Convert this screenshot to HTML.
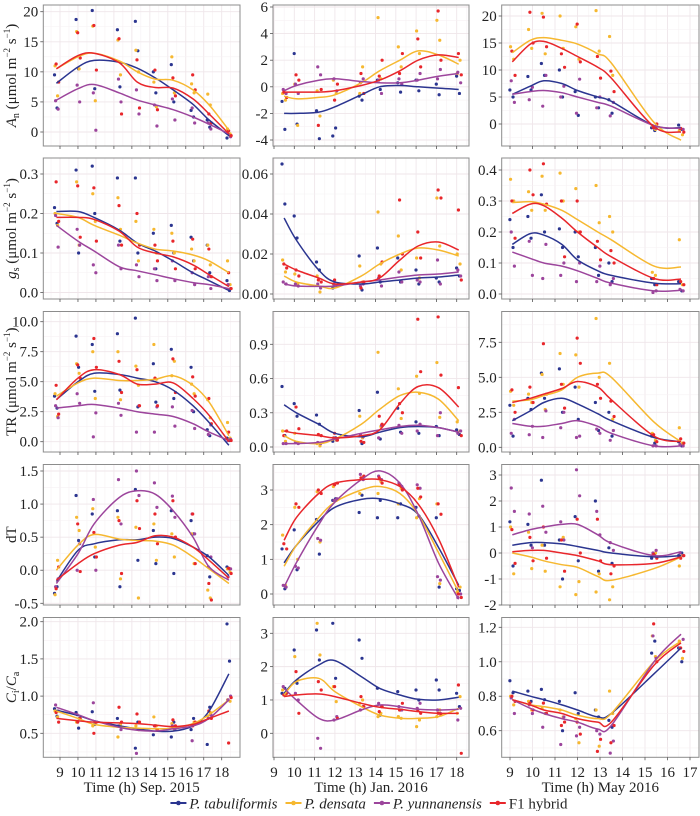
<!DOCTYPE html>
<html><head><meta charset="utf-8"><style>
html,body{margin:0;padding:0;background:#fff;}
svg, svg text{font-family:"Liberation Serif","Times New Roman","DejaVu Serif",serif;}
</style></head><body>
<svg id="fig" width="700" height="811" viewBox="0 0 700 811" xmlns="http://www.w3.org/2000/svg" font-family="Liberation Serif, serif"></svg>
<script>
// ---------- measurement times (h) ----------
const timesSep = [8.8,10.0,10.9,12.3,13.3,14.3,15.3,16.4,17.3,18.4];
const timesJan = [9.5,10.1,11.2,12.0,13.3,14.2,15.2,16.1,17.1,18.1];
const timesMay = [9.1,9.9,10.5,11.3,12.0,12.9,13.5,15.4,16.6];
const seriesNames = ["P. tabuliformis","P. densata","P. yunnanensis","F1 hybrid"];
const xTicksSep = [9,10,11,12,13,14,15,16,17,18];
const xTicksJan = [9,10,11,12,13,14,15,16,17,18];
const xTicksMay = [9,10,11,12,13,14,15,16,17];
const xTitles = ["Time (h)  Sep. 2015","Time (h)  Jan. 2016","Time (h)  May 2016"];

// ---------- A_n ----------
const anSepLine = [[8.1,10.8,11.9,11.6,10.6,9.0,7.0,4.6,2.0,-0.6],[10.5,12.5,13.1,11.8,10.0,8.8,8.6,7.0,4.5,0.3],[5.3,7.2,7.9,6.5,5.3,4.5,3.7,2.5,1.3,-0.3],[10.5,12.7,13.1,11.5,8.3,7.4,7.3,5.5,3.0,-0.3]];
const anSepDots = [[[9.5,4.0],[18.7,10.5],[20.2,7.2],[17.0,7.5],[18.4,13.5],[10.0,6.5],[11.2,5.0],[3.6,2.5],[2.0,0.8],[-1.0,-0.5]],[[11.0,6.0],[16.7,10.5],[17.6,5.2],[15.3,9.5],[13.6,10.0],[8.3,4.2],[12.5,6.5],[8.0,6.5],[6.3,4.5],[0.5,-0.3]],[[5.2,3.8],[7.8,5.0],[6.5,0.3],[8.8,5.0],[7.0,3.0],[4.5,1.0],[5.5,2.0],[4.0,1.5],[1.5,0.5],[-0.3,-0.8]],[[11.3,8.3],[16.5,12.3],[17.7,10.3],[15.5,3.0],[12.0,4.0],[10.3,3.7],[9.0,6.0],[9.5,7.0],[3.0,1.5],[0.2,-0.6]]];
const anJanLine = [[-2.0,-2.0,-1.9,-1.5,-0.6,0.0,0.1,0.0,-0.1,-0.2],[-0.7,-0.9,-0.8,-0.6,0.3,1.2,2.0,2.7,2.4,1.7],[-0.3,0.1,0.5,0.6,0.4,0.3,0.3,0.5,0.8,1.0],[-0.4,-0.4,-0.4,-0.3,0.1,0.5,1.2,2.0,2.4,2.2]];
const anJanDots = [[[-1.1,-3.2],[2.5,-2.8],[-1.8,-3.9],[-3.7,-3.1],[-0.7,-1.0],[0.5,-0.2],[0.3,-0.4],[0.5,-0.3],[0.2,-0.6],[0.8,-0.5]],[[-0.5,-1.0],[0.2,-2.9],[-0.3,-2.2],[0.5,-0.5],[-0.5,1.5],[5.2,0.6],[3.0,1.5],[4.2,2.5],[5.0,3.5],[1.0,2.0]],[[-0.2,-0.5],[0.2,-0.5],[1.5,0.9],[0.6,-0.3],[0.3,0.6],[0.5,-0.5],[0.6,0.2],[0.5,1.0],[0.6,1.3],[1.1,0.3]],[[-0.4,-0.8],[0.9,0.5],[-2.9,-0.2],[-1.0,0.2],[1.0,-0.5],[0.8,2.0],[1.0,2.5],[3.6,1.5],[5.7,2.0],[2.5,0.9]]];
const anMayLine = [[5.5,7.0,8.0,7.5,6.2,5.0,4.2,-0.3,-0.7],[13.2,15.5,16.0,15.5,14.8,13.0,11.3,0.3,-3.0],[5.5,6.0,6.2,5.8,5.0,4.0,3.3,-0.3,-0.8],[11.5,14.8,15.3,14.0,12.5,10.5,8.5,-0.5,-1.5]];
const anMayDots = [[[6.3,5.0],[8.8,6.3],[11.2,9.0],[10.0,5.0],[6.0,1.6],[5.0,3.0],[4.5,2.0],[-0.7,-1.2],[-0.2,-1.0]],[[14.3,12.0],[17.5,14.0],[20.5,13.0],[20.0,14.0],[18.0,12.0],[21.0,13.5],[16.2,9.0],[-0.3,-1.0],[-1.2,-2.0]],[[8.0,4.0],[4.5,6.8],[3.3,9.0],[5.0,7.0],[2.0,8.3],[3.0,5.0],[1.5,4.0],[-0.5,-0.8],[-0.8,-1.0]],[[13.5,9.0],[20.7,15.0],[19.8,14.3],[13.0,10.5],[18.5,11.5],[12.5,8.5],[9.8,6.0],[-0.7,0.0],[-0.8,-1.5]]];

// ---------- g_s ----------
const gsSepLine = [[0.205,0.205,0.19,0.158,0.125,0.105,0.08,0.05,0.03,0.005],[0.20,0.19,0.17,0.145,0.125,0.11,0.105,0.095,0.08,0.05],[0.17,0.13,0.105,0.065,0.055,0.045,0.035,0.025,0.02,0.01],[0.19,0.19,0.185,0.155,0.115,0.10,0.09,0.07,0.045,0.015]];
const gsSepDots = [[[0.215,0.175],[0.31,0.1],[0.32,0.2],[0.29,0.13],[0.29,0.10],[0.15,0.06],[0.17,0.10],[0.14,0.08],[0.12,0.05],[0.03,0.005]],[[0.2,0.17],[0.28,0.12],[0.25,0.18],[0.24,0.16],[0.18,0.08],[0.16,0.1],[0.15,0.10],[0.11,0.08],[0.12,0.07],[0.08,0.02]],[[0.195,0.115],[0.16,0.12],[0.07,0.05],[0.12,0.06],[0.07,0.04],[0.06,0.03],[0.08,0.03],[0.05,0.02],[0.04,0.01],[0.02,0.01]],[[0.28,0.18],[0.27,0.14],[0.265,0.13],[0.22,0.12],[0.2,0.12],[0.12,0.08],[0.13,0.06],[0.135,0.06],[0.11,0.04],[0.05,0.01]]];
const gsJanLine = [[0.038,0.027,0.012,0.006,0.005,0.006,0.007,0.008,0.0085,0.0095],[0.009,0.006,0.004,0.003,0.009,0.015,0.020,0.023,0.022,0.019],[0.005,0.004,0.0038,0.004,0.006,0.007,0.0085,0.0095,0.010,0.011],[0.015,0.012,0.008,0.005,0.006,0.008,0.017,0.024,0.026,0.022]];
const gsJanDots = [[[0.065,0.045],[0.039,0.028],[0.016,0.012],[0.003,0.004],[0.019,0.002],[0.023,0.006],[0.018,0.006],[0.012,0.005],[0.008,0.006],[0.013,0.009]],[[0.017,0.011],[0.01,0.005],[0.009,0.001],[0.005,0.004],[0.014,0.006],[0.041,0.015],[0.029,0.012],[0.018,0.008],[0.048,0.024],[0.02,0.015]],[[0.006,0.005],[0.005,0.004],[0.005,0.003],[0.005,0.004],[0.004,0.005],[0.008,0.004],[0.011,0.006],[0.007,0.006],[0.017,0.005],[0.012,0.009]],[[0.015,0.013],[0.012,0.009],[0.007,0.006],[0.007,0.004],[0.003,0.006],[0.009,0.016],[0.047,0.02],[0.031,0.018],[0.052,0.048],[0.042,0.007]]];
const gsMayLine = [[0.16,0.195,0.19,0.16,0.11,0.075,0.06,0.035,0.033],[0.295,0.298,0.29,0.27,0.24,0.2,0.175,0.09,0.087],[0.135,0.115,0.10,0.09,0.075,0.05,0.035,0.01,0.012],[0.26,0.29,0.285,0.245,0.2,0.15,0.12,0.05,0.048]];
const gsMayDots = [[[0.24,0.15],[0.25,0.18],[0.32,0.2],[0.21,0.15],[0.2,0.12],[0.15,0.06],[0.1,0.04],[0.05,0.03],[0.04,0.01]],[[0.37,0.3],[0.33,0.27],[0.38,0.27],[0.39,0.3],[0.34,0.2],[0.35,0.23],[0.25,0.2],[0.07,0.06],[0.175,0.03]],[[0.2,0.09],[0.17,0.06],[0.05,0.16],[0.06,0.1],[0.04,0.1],[0.04,0.09],[0.03,0.05],[0.005,0.01],[0.015,0.01]],[[0.3,0.18],[0.4,0.32],[0.42,0.29],[0.3,0.12],[0.3,0.2],[0.17,0.11],[0.14,0.1],[0.05,0.03],[0.04,0.03]]];

// ---------- TR ----------
const trSepLine = [[3.5,5.0,5.7,5.6,5.3,5.0,4.3,3.0,1.6,-0.3],[3.8,4.9,5.3,5.1,5.1,5.2,5.5,4.7,3.3,0.5],[2.8,3.0,3.1,2.8,2.5,2.3,2.1,1.5,0.8,0.1],[3.5,5.3,6.0,5.6,4.8,4.8,4.9,3.6,2.2,0.0]];
const trSepDots = [[[3.8,2.8],[8.8,6.2],[8.1,4.2],[9.0,4.3],[10.3,2.9],[6.5,3.3],[7.7,3.6],[6.2,2.5],[1.0,0.5],[0.3,0.1]],[[4.0,2.1],[6.5,5.7],[7.5,3.6],[7.5,3.5],[6.3,4.7],[8.1,5.2],[5.5,6.7],[4.8,4.0],[3.5,2.0],[1.6,0.3]],[[3.0,2.0],[4.0,3.2],[0.4,2.4],[3.2,2.2],[0.8,3.0],[0.8,2.9],[2.9,1.3],[2.6,1.1],[0.6,1.4],[0.1,0.2]],[[4.7,2.3],[6.4,5.3],[8.6,6.2],[6.7,4.1],[6.0,3.0],[5.3,3.0],[6.9,4.1],[5.4,3.8],[3.6,1.5],[0.8,0.1]]];
const trJanLine = [[0.37,0.3,0.2,0.12,0.09,0.13,0.17,0.18,0.17,0.13],[0.1,0.05,0.03,0.07,0.2,0.33,0.45,0.48,0.42,0.23],[0.03,0.03,0.04,0.07,0.12,0.15,0.18,0.19,0.17,0.13],[0.14,0.12,0.1,0.08,0.1,0.15,0.38,0.53,0.52,0.35]];
const trJanDots = [[[0.53,0.1],[0.38,0.27],[0.28,0.2],[0.05,0.08],[0.32,0.03],[0.48,0.07],[0.34,0.13],[0.22,0.12],[0.18,0.1],[0.15,0.11]],[[0.14,0.05],[0.12,0.04],[0.03,0.01],[0.08,0.06],[0.27,0.08],[0.83,0.18],[0.51,0.25],[0.62,0.47],[0.74,0.26],[0.22,0.14]],[[0.03,0.03],[0.04,0.03],[0.04,0.03],[0.08,0.06],[0.11,0.09],[0.08,0.19],[0.19,0.12],[0.14,0.2],[0.1,0.3],[0.12,0.14]],[[0.1,0.14],[0.35,0.16],[0.11,0.1],[0.12,0.06],[0.05,0.04],[0.27,0.2],[0.38,0.3],[1.12,0.66],[1.14,0.63],[0.52,0.1]]];
const trMayLine = [[1.9,2.6,3.2,3.5,3.1,2.4,1.9,0.7,0.4],[3.3,3.4,3.7,4.1,5.0,5.3,5.0,1.8,0.4],[1.7,1.5,1.5,1.7,1.9,1.5,1.0,0.1,0.1],[3.2,3.5,3.8,4.2,4.7,4.3,3.4,0.8,0.4]];
const trMayDots = [[[3.0,0.8],[3.5,2.7],[5.3,3.5],[5.6,2.5],[4.3,2.0],[3.2,1.2],[2.5,0.8],[0.8,0.3],[0.4,0.1]],[[4.0,3.0],[3.8,3.2],[5.2,2.7],[6.7,4.5],[6.6,4.3],[9.2,5.0],[6.0,2.0],[1.0,0.5],[1.4,0.3]],[[1.0,2.0],[0.9,1.5],[0.7,2.6],[1.4,2.5],[0.7,0.8],[1.3,1.0],[0.5,1.2],[0.1,0.1],[0.2,0.1]],[[4.1,2.5],[4.3,3.2],[7.4,3.8],[4.5,2.8],[7.8,6.0],[4.5,3.5],[3.3,2.2],[0.9,0.4],[0.6,0.3]]];

// ---------- dT ----------
const dtSepLine = [[-0.17,0.3,0.4,0.46,0.46,0.5,0.48,0.35,0.2,-0.08],[0.0,0.38,0.54,0.47,0.45,0.44,0.38,0.2,0.02,-0.2],[-0.2,0.25,0.7,1.1,1.2,1.15,0.9,0.5,0.05,-0.15],[-0.15,0.1,0.25,0.38,0.42,0.52,0.5,0.35,0.15,-0.12]];
const dtSepDots = [[[-0.35,-0.25],[1.13,0.45],[0.85,0.2],[0.9,-0.25],[1.22,0.15],[0.6,0.1],[0.9,-0.05],[0.75,0.55],[0.22,-0.1],[0.05,0.02]],[[-0.37,0.15],[0.8,0.6],[0.93,0.35],[0.8,-0.13],[0.65,-0.42],[0.7,0.15],[0.55,0.2],[0.55,0.1],[-0.3,-0.42],[0.02,-0.03]],[[-0.25,-0.13],[0.0,0.4],[1.07,0.0],[1.37,0.7],[1.5,1.13],[1.32,0.95],[1.12,0.8],[0.85,0.55],[0.05,0.2],[-0.1,0.02]],[[-0.28,0.05],[0.7,-0.02],[0.57,0.2],[0.75,-0.05],[1.05,0.63],[0.85,0.4],[1.05,0.5],[0.85,0.1],[-0.2,-0.45],[0.03,-0.05]]];
const dtJanLine = [[0.9,1.4,2.1,2.5,2.73,2.75,2.6,2.3,1.35,0.25],[0.8,1.4,2.2,2.65,3.0,3.1,2.9,2.3,1.2,0.05],[0.2,0.9,2.0,2.65,3.3,3.55,3.2,2.3,0.9,-0.15],[1.55,2.2,2.9,3.2,3.3,3.3,3.1,2.6,1.6,0.2]];
const dtJanDots = [[[1.3,0.15],[1.85,0.7],[2.15,1.15],[2.7,2.75],[2.35,2.85],[2.2,2.7],[2.2,2.6],[2.5,2.25],[2.2,0.2],[0.15,0.1]],[[1.7,0.25],[2.5,1.0],[2.95,1.5],[3.1,2.7],[2.9,3.35],[2.9,3.25],[2.6,3.05],[2.2,2.75],[2.6,0.3],[0.05,0.2]],[[0.25,0.2],[0.8,0.75],[1.6,1.55],[2.7,2.75],[3.45,3.3],[3.4,3.3],[3.2,3.1],[3.15,3.05],[0.5,0.4],[-0.1,0.0]],[[1.45,1.3],[2.6,2.5],[3.0,2.9],[3.15,3.2],[3.35,3.4],[3.35,3.2],[3.15,3.0],[3.05,2.8],[2.6,2.3],[0.0,-0.1]]];
const dtMayLine = [[0.3,0.4,0.4,0.35,0.25,0.1,0.0,-0.15,-0.1],[0.0,-0.15,-0.3,-0.45,-0.55,-0.9,-1.05,-0.6,-0.15],[0.7,0.9,1.0,1.1,1.1,0.7,0.38,-0.1,0.05],[0.05,0.1,0.1,0.0,-0.1,-0.3,-0.45,-0.4,-0.15]];
const dtMayDots = [[[1.2,-0.5],[1.1,0.3],[2.8,0.3],[0.5,-1.0],[1.4,-0.3],[2.0,-0.7],[0.2,-0.4],[-0.2,-0.1],[-0.1,0.0]],[[1.0,-0.8],[0.8,-0.6],[0.3,-0.7],[-1.3,0.6],[-1.6,-1.1],[-1.5,-0.8],[-1.8,-1.3],[-0.1,0.0],[-0.5,-0.1]],[[2.5,1.6],[1.5,0.2],[1.8,0.8],[1.2,0.5],[3.2,2.2],[1.6,0.7],[0.4,0.1],[0.0,0.1],[0.0,-0.1]],[[0.9,-0.4],[0.6,-0.3],[1.0,-0.2],[0.5,-0.7],[1.3,0.0],[1.3,-0.3],[-0.8,-0.5],[-0.05,-0.2],[-0.2,-0.1]]];

// ---------- Ci/Ca ----------
const ciSepLine = [[0.81,0.74,0.67,0.6,0.56,0.53,0.53,0.6,0.8,1.3],[0.8,0.7,0.62,0.58,0.57,0.56,0.57,0.63,0.75,0.95],[0.85,0.75,0.67,0.58,0.54,0.53,0.56,0.6,0.7,0.95],[0.7,0.67,0.65,0.64,0.63,0.61,0.59,0.62,0.7,0.8]];
const ciSepDots = [[[0.83,0.73],[0.78,0.57],[0.79,0.62],[0.7,0.6],[0.3,0.65],[0.48,0.6],[0.45,0.65],[0.55,0.7],[0.35,0.85],[1.97,1.47]],[[0.8,0.72],[0.65,0.7],[0.6,0.65],[0.45,0.62],[0.6,0.55],[0.72,0.6],[0.63,0.55],[0.6,0.65],[0.73,0.78],[0.95,0.93]],[[0.88,0.8],[0.75,0.7],[0.91,0.65],[0.6,0.55],[0.23,0.55],[0.6,0.55],[0.6,0.55],[0.4,0.62],[0.7,0.75],[0.95,1.0]],[[0.78,0.65],[0.65,0.7],[0.5,0.65],[0.85,0.65],[0.76,0.65],[0.6,0.55],[0.68,0.6],[0.6,0.65],[0.8,0.7],[0.37,0.98]]];
const ciJanLine = [[1.2,1.6,2.05,2.18,1.7,1.35,1.15,1.02,1.0,1.08],[1.15,1.55,1.65,1.25,0.8,0.55,0.45,0.45,0.5,0.75],[1.35,1.0,0.45,0.4,0.7,0.85,0.8,0.72,0.7,0.72],[1.1,1.15,1.18,1.1,0.9,0.78,0.72,0.65,0.6,0.6]];
const ciJanDots = [[[1.2,1.35],[2.5,1.5],[3.1,2.2],[3.3,1.65],[2.8,2.25],[1.35,0.55],[1.25,0.7],[1.3,1.0],[1.6,1.3],[1.2,0.8]],[[1.3,1.15],[2.3,1.6],[3.3,2.35],[1.4,0.95],[0.9,1.0],[0.5,0.6],[0.5,0.45],[0.2,0.4],[0.5,0.7],[0.6,1.1]],[[1.4,1.2],[1.2,1.0],[-0.15,-0.45],[0.4,0.5],[0.7,0.8],[0.9,0.8],[0.8,0.7],[0.75,0.9],[0.7,0.6],[0.4,0.75]],[[1.15,1.2],[1.85,0.6],[1.55,1.3],[1.4,0.45],[1.1,0.8],[0.65,0.8],[0.7,0.9],[0.7,0.6],[0.6,0.55],[1.45,-0.6]]];
const ciMayLine = [[0.83,0.8,0.78,0.75,0.72,0.68,0.7,0.93,1.08],[0.78,0.75,0.74,0.72,0.69,0.67,0.7,1.0,1.12],[0.78,0.73,0.70,0.67,0.65,0.61,0.63,1.0,1.16],[0.78,0.75,0.72,0.7,0.67,0.65,0.65,0.98,1.11]];
const ciMayDots = [[[0.89,0.82],[0.83,0.77],[0.84,0.78],[0.77,0.6],[0.82,0.7],[0.72,0.68],[0.66,0.62],[1.05,1.12],[1.08,1.0]],[[0.8,0.75],[0.77,0.72],[0.73,0.7],[0.72,0.68],[0.67,0.53],[0.72,0.51],[0.83,0.7],[1.15,1.03],[1.12,1.02]],[[0.79,0.7],[0.75,0.7],[0.62,0.7],[0.52,0.68],[0.57,0.62],[0.6,0.58],[0.47,0.54],[1.15,1.02],[1.08,1.13]],[[0.8,0.77],[0.76,0.72],[0.76,0.7],[0.63,0.65],[0.65,0.58],[0.48,0.55],[0.53,0.63],[1.22,1.0],[1.08,1.06]]];

// ---------- y tick labels ----------
const yTicksAnSep=[0,5,10,15,20], yLabAnSep=["0","5","10","15","20"];
const yTicksAnJan=[-4,-2,0,2,4,6], yLabAnJan=["-4","-2","0","2","4","6"];
const yTicksAnMay=[0,5,10,15,20], yLabAnMay=["0","5","10","15","20"];
const yTicksGsSep=[0,0.1,0.2,0.3], yLabGsSep=["0.0","0.1","0.2","0.3"];
const yTicksGsJan=[0,0.02,0.04,0.06], yLabGsJan=["0.00","0.02","0.04","0.06"];
const yTicksGsMay=[0,0.1,0.2,0.3,0.4], yLabGsMay=["0.0","0.1","0.2","0.3","0.4"];
const yTicksTrSep=[0,2.5,5,7.5,10], yLabTrSep=["0.0","2.5","5.0","7.5","10.0"];
const yTicksTrJan=[0,0.3,0.6,0.9], yLabTrJan=["0.0","0.3","0.6","0.9"];
const yTicksTrMay=[0,2.5,5,7.5], yLabTrMay=["0.0","2.5","5.0","7.5"];
const yTicksDtSep=[-0.5,0,0.5,1,1.5], yLabDtSep=["-0.5","0.0","0.5","1.0","1.5"];
const yTicksDtJan=[0,1,2,3], yLabDtJan=["0","1","2","3"];
const yTicksDtMay=[-2,-1,0,1,2,3], yLabDtMay=["-2","-1","0","1","2","3"];
const yTicksCiSep=[0.5,1,1.5,2], yLabCiSep=["0.5","1.0","1.5","2.0"];
const yTicksCiJan=[0,1,2,3], yLabCiJan=["0","1","2","3"];
const yTicksCiMay=[0.6,0.8,1.0,1.2], yLabCiMay=["0.6","0.8","1.0","1.2"];

// ---------- layout (pixels, not data) ----------
const FONT="Liberation Serif, Times New Roman, serif";
const colors=["#2b3590","#f6b830","#9c459c","#e8262b"];
const colLeft=[43.3,273,501.7], colRight=[240,469,699];
const colX=[[9,60,18,221.7],[9,274,18,456.7],[9,510,17,690]];
const rowTop=[5,158,311.5,464.5,617.5], rowBot=[146,299,452,605,757.3];
const yAnchor=[
 [[20,11.7,0,132],[6,7,-4,140],[20,16,0,124]],
 [[0.3,174,0.1,253],[0.06,174,0,294],[0.4,170,0,294]],
 [[10,321.7,0,441.7],[0.9,344.3,0,447],[7.5,342.3,0,447.3]],
 [[1.5,471,-0.5,603.3],[3,490,0,594],[3,475,-2,605]],
 [[2,621.7,0.5,733.3],[3,633.3,0,733.3],[1.2,627.3,0.6,730.7]]];
const timesCols=[timesSep,timesJan,timesMay];
const xTickCols=[xTicksSep,xTicksJan,xTicksMay];
const lines=[[anSepLine,anJanLine,anMayLine],[gsSepLine,gsJanLine,gsMayLine],[trSepLine,trJanLine,trMayLine],[dtSepLine,dtJanLine,dtMayLine],[ciSepLine,ciJanLine,ciMayLine]];
const dots=[[anSepDots,anJanDots,anMayDots],[gsSepDots,gsJanDots,gsMayDots],[trSepDots,trJanDots,trMayDots],[dtSepDots,dtJanDots,dtMayDots],[ciSepDots,ciJanDots,ciMayDots]];
const yTicks=[[yTicksAnSep,yTicksAnJan,yTicksAnMay],[yTicksGsSep,yTicksGsJan,yTicksGsMay],[yTicksTrSep,yTicksTrJan,yTicksTrMay],[yTicksDtSep,yTicksDtJan,yTicksDtMay],[yTicksCiSep,yTicksCiJan,yTicksCiMay]];
const yLabs=[[yLabAnSep,yLabAnJan,yLabAnMay],[yLabGsSep,yLabGsJan,yLabGsMay],[yLabTrSep,yLabTrJan,yLabTrMay],[yLabDtSep,yLabDtJan,yLabDtMay],[yLabCiSep,yLabCiJan,yLabCiMay]];
const rowNames=["an","gs","tr","dt","ci"], colNames=["sep","jan","may"];

const NS="http://www.w3.org/2000/svg";
const svg=document.getElementById('fig');
function mk(tag,attrs,parent){const e=document.createElementNS(NS,tag);for(const k in attrs)e.setAttribute(k,attrs[k]);if(tag==='text')e.setAttribute('font-family',FONT);(parent||svg).appendChild(e);return e;}
function xScale(c){const a=colX[c];return v=>a[1]+(v-a[0])*(a[3]-a[1])/(a[2]-a[0]);}
function yScale(r,c){const a=yAnchor[r][c];return v=>a[1]+(v-a[0])*(a[3]-a[1])/(a[2]-a[0]);}
function smooth(pts){
  let d="M"+pts[0][0].toFixed(1)+","+pts[0][1].toFixed(1);
  for(let i=0;i<pts.length-1;i++){
    const p0=pts[i-1]||pts[i],p1=pts[i],p2=pts[i+1],p3=pts[i+2]||p2;
    const c1=[p1[0]+(p2[0]-p0[0])/6,p1[1]+(p2[1]-p0[1])/6];
    const c2=[p2[0]-(p3[0]-p1[0])/6,p2[1]-(p3[1]-p1[1])/6];
    d+=" C"+c1[0].toFixed(1)+","+c1[1].toFixed(1)+" "+c2[0].toFixed(1)+","+c2[1].toFixed(1)+" "+p2[0].toFixed(1)+","+p2[1].toFixed(1);
  }
  return d;
}

for(let r=0;r<5;r++){for(let c=0;c<3;c++){
  const L=colLeft[c],R=colRight[c],T=rowTop[r],B=rowBot[r];
  const xs=xScale(c),ys=yScale(r,c);
  const g=mk('g',{});
  
  
  const cid='clip'+r+c;
  const cp=mk('clipPath',{id:cid},g);mk('rect',{x:L,y:T,width:R-L,height:B-T},cp);
  mk('rect',{x:L,y:T,width:R-L,height:B-T,fill:'#fff'},g);
  const grid=mk('g',{'clip-path':'url(#'+cid+')'},g);
  
  
  const xt=xTickCols[c];
  for(let i=0;i<xt.length;i++){
    const px=xs(xt[i]);
    mk('line',{x1:px,x2:px,y1:T,y2:B,stroke:'#efe6ea','stroke-width':0.9},grid);
    const pm=xs(xt[i]+0.5);
    mk('line',{x1:pm,x2:pm,y1:T,y2:B,stroke:'#f6f1f3','stroke-width':0.6},grid);
    const pm2=xs(xt[i]-0.5);
    if(i==0) mk('line',{x1:pm2,x2:pm2,y1:T,y2:B,stroke:'#f6f1f3','stroke-width':0.6},grid);
    mk('line',{x1:px,x2:px,y1:B,y2:B+3,stroke:'#555','stroke-width':0.8});
  }
  const yt=yTicks[r][c], yl=yLabs[r][c];
  const step=yt[1]-yt[0];
  for(let i=-1;i<yt.length+1;i++){
    const v=yt[0]+i*step;
    if(i>=0&&i<yt.length){
      const py=ys(yt[i]);
      mk('line',{x1:L,x2:R,y1:py,y2:py,stroke:'#efe6ea','stroke-width':0.9},grid);
      mk('line',{x1:L-3,x2:L,y1:py,y2:py,stroke:'#555','stroke-width':0.8});
      const tl=mk('text',{x:L-5,y:py+5,'text-anchor':'end','font-size':15,fill:'#222'});
      tl.textContent=yl[i];
      
      
    }
    const pm=ys(v+step/2);
    mk('line',{x1:L,x2:R,y1:pm,y2:pm,stroke:'#f6f1f3','stroke-width':0.6},grid);
  }
  const plot=mk('g',{'clip-path':'url(#'+cid+')'},g);
  const tms=timesCols[c];
  for(let s=0;s<4;s++){
    const dd=dots[r][c][s];
    for(let i=0;i<dd.length;i++){for(let k=0;k<dd[i].length;k++){
      const dx=(k===0?-0.06:0.08)+(s-1.5)*0.03;
      const dot=mk('circle',{cx:xs(tms[i]+dx),cy:ys(dd[i][k]),r:1.6,fill:colors[s]},plot);
      
      
    }}
  }
  for(let s=0;s<4;s++){
    const ln=lines[r][c][s];
    const pts=ln.map((v,i)=>[xs(tms[i]),ys(v)]);
    const p=mk('path',{d:smooth(pts),fill:'none',stroke:colors[s],'stroke-width':1.5},plot);
    
    
  }
  mk('rect',{x:L,y:T,width:R-L,height:B-T,fill:'none',stroke:'#8c8c8c','stroke-width':1},g);
  if(r===4){
    for(let i=0;i<xt.length;i++){
      const tl=mk('text',{x:xs(xt[i]),y:777,'text-anchor':'middle','font-size':15,fill:'#222'});
      tl.textContent=String(xt[i]);
      
      
    }
    const tt=mk('text',{x:(L+R)/2,y:792,'text-anchor':'middle','font-size':15,fill:'#222','xml:space':'preserve'});
    tt.textContent=xTitles[c];
    
    
  }
}}

// y-axis titles
const titleY=[75.5,228.5,381.7,534.7,687.4];
const titleHtml=[
 '<tspan font-style="italic">A</tspan><tspan font-size="10" dy="3">n</tspan><tspan dy="-3"> (μmol m</tspan><tspan font-size="9" dy="-6">−2</tspan><tspan dy="6"> s</tspan><tspan font-size="9" dy="-6">−1</tspan><tspan dy="6">)</tspan>',
 '<tspan font-style="italic">g</tspan><tspan font-size="10" dy="3">s</tspan><tspan dy="-3"> (μmol m</tspan><tspan font-size="9" dy="-6">−2</tspan><tspan dy="6"> s</tspan><tspan font-size="9" dy="-6">−1</tspan><tspan dy="6">)</tspan>',
 'TR (μmol m<tspan font-size="9" dy="-6">−2</tspan><tspan dy="6"> s</tspan><tspan font-size="9" dy="-6">−1</tspan><tspan dy="6">)</tspan>',
 'dT',
 '<tspan font-style="italic">C</tspan><tspan font-size="10" dy="3">i</tspan><tspan dy="-3">/</tspan><tspan font-style="italic">C</tspan><tspan font-size="10" dy="3">a</tspan>'];
for(let i=0;i<5;i++){
  const t=mk('text',{transform:'translate(16,'+titleY[i]+') rotate(-90)','text-anchor':'middle','font-size':15,fill:'#222'});
  t.innerHTML=titleHtml[i];
  
  
}

// legend
const lg=mk('g',{});


const entries=[];let total=0;
for(let i=0;i<4;i++){
  const e=mk('g',{},lg);
  
  
  const t=mk('text',{x:0,y:808.5,'font-size':15,fill:'#222'},e);
  if(i<3)t.setAttribute('font-style','italic');
  t.textContent=seriesNames[i];
  const w=t.getComputedTextLength();
  entries.push([e,t,w]);total+=19+w+(i<3?8:0);
}
let x0=369-total/2;
for(let i=0;i<4;i++){
  const [e,t,w]=entries[i];
  mk('line',{x1:x0,x2:x0+16,y1:803,y2:803,stroke:colors[i],'stroke-width':2},e);
  mk('circle',{cx:x0+8,cy:803,r:2.3,fill:colors[i]},e);
  t.setAttribute('x',x0+19);
  x0+=19+w+8;
}
</script>
</body></html>
